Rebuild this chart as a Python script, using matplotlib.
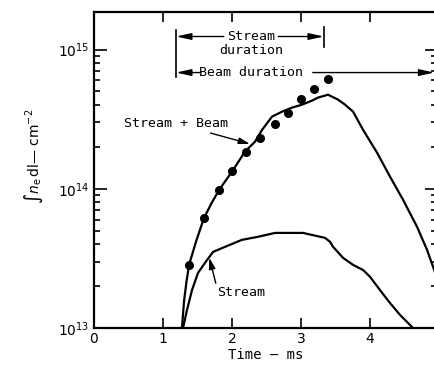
import matplotlib
matplotlib.use("Agg")
import matplotlib.pyplot as plt
from matplotlib.ticker import LogLocator, NullFormatter, FixedLocator

# ---- data ----
sb_t = [1.275, 1.304, 1.340, 1.377, 1.480, 1.594, 1.710, 1.812, 2.0, 2.188, 2.333,
        2.435, 2.58, 2.725, 2.870, 3.014, 3.159, 3.246, 3.391, 3.536, 3.638, 3.754,
        3.899, 4.101, 4.29, 4.478, 4.681, 4.826, 4.913, 5.0]
sb_n = [1.0e13, 1.55e13, 2.15e13, 2.84e13, 4.20e13, 6.18e13, 8.0e13, 9.8e13, 1.33e14,
        1.85e14, 2.18e14, 2.65e14, 3.30e14, 3.58e14, 3.83e14, 4.02e14, 4.30e14, 4.52e14,
        4.74e14, 4.37e14, 4.02e14, 3.58e14, 2.65e14, 1.82e14, 1.22e14, 8.34e13, 5.33e13,
        3.64e13, 2.75e13, 2.1e13]

st_t = [1.29, 1.348, 1.420, 1.507, 1.638, 1.725, 1.899, 2.145, 2.377, 2.623, 2.870,
        3.029, 3.348, 3.420, 3.464, 3.609, 3.754, 3.899, 4.0, 4.145, 4.29, 4.435, 4.623]
st_n = [1.0e13, 1.35e13, 1.87e13, 2.49e13, 3.08e13, 3.52e13, 3.83e13, 4.30e13, 4.52e13,
        4.82e13, 4.82e13, 4.82e13, 4.44e13, 4.16e13, 3.83e13, 3.19e13, 2.84e13, 2.61e13,
        2.33e13, 1.87e13, 1.51e13, 1.24e13, 1.0e13]

dot_t = [1.377, 1.594, 1.812, 2.0, 2.203, 2.406, 2.623, 2.812, 3.0, 3.188, 3.391]
dot_n = [2.84e13, 6.18e13, 9.8e13, 1.35e14, 1.85e14, 2.33e14, 2.94e14, 3.52e14,
         4.44e14, 5.24e14, 6.18e14]

x_ticks = [0, 1, 2, 3, 4, 5]
x_ticklabels = ["0", "1", "2", "3", "4", "5"]

stream_dur = (1.19, 3.33)
beam_dur = (1.19, 4.93)

# ---- figure ----
plt.rcParams['mathtext.fontset'] = 'dejavusans'
fig = plt.figure(figsize=(4.34, 3.69), dpi=100)
ax = fig.add_axes([94 / 434, 41 / 369, 343 / 434, 316 / 369])

ax.set_yscale('log')
ax.set_xlim(0, 4.97)
ax.set_ylim(1e13, 10 ** 15.27)

ax.plot(sb_t, sb_n, color='black', lw=1.6, clip_on=True)
ax.plot(st_t, st_n, color='black', lw=1.6, clip_on=True)
ax.plot(dot_t, dot_n, 'o', color='black', ms=5.5, clip_on=False)

for s in ax.spines.values():
    s.set_linewidth(1.6)

ax.xaxis.set_major_locator(FixedLocator(x_ticks))
ax.set_xticklabels(x_ticklabels)
ax.yaxis.set_major_locator(LogLocator(base=10))
ax.yaxis.set_minor_locator(LogLocator(base=10, subs=range(2, 10)))
ax.yaxis.set_minor_formatter(NullFormatter())
ax.tick_params(axis='both', which='both', direction='in', top=True, right=True,
               labelsize=10, width=1.2, pad=3)
ax.tick_params(axis='x', which='major', length=7)
ax.tick_params(axis='y', which='major', length=9)
ax.tick_params(axis='y', which='minor', length=4.5)

mono = 'DejaVu Sans Mono'
fs = 9.5

ax.set_xlabel('Time — ms', fontsize=10, family=mono, labelpad=1)
ax.set_ylabel(r'$\int n_{\rm e}\,{\rm dl}$— cm$^{-2}$', fontsize=10)
ax.yaxis.set_label_coords(-0.143, 0.544)

# Stream + Beam label with arrow
ax.annotate('Stream + Beam', xy=(2.26, 2.1e14), xytext=(0.43, 2.95e14),
            fontsize=fs, family=mono, ha='left', va='center',
            arrowprops=dict(arrowstyle='-|>,head_length=0.7,head_width=0.2', color='black',
                            lw=1.0, shrinkA=1, shrinkB=0))
# Stream label with arrow
ax.annotate('Stream', xy=(1.67, 3.2e13), xytext=(1.78, 1.8e13),
            fontsize=fs, family=mono, ha='left', va='center',
            arrowprops=dict(arrowstyle='-|>,head_length=0.7,head_width=0.2', color='black',
                            lw=1.0, shrinkA=0, shrinkB=0, relpos=(0, 0.9)))

# Stream duration
ys1 = 10 ** 15.094
ax.plot([stream_dur[0]] * 2, [10 ** 15.144, 10 ** 14.806], color='black', lw=1.2)
ax.plot([stream_dur[1]] * 2, [10 ** 15.16, 10 ** 15.02], color='black', lw=1.2)
ax.text(2.28, ys1, 'Stream', fontsize=fs, family=mono, ha='center', va='center')
ax.text(2.28, 10 ** 14.995, 'duration', fontsize=fs, family=mono, ha='center', va='center')
ax.annotate('', xy=(stream_dur[0], ys1), xytext=(1.88, ys1),
            arrowprops=dict(arrowstyle='-|>,head_length=0.9,head_width=0.2', color='black',
                            lw=1.0, shrinkA=0, shrinkB=0))
ax.annotate('', xy=(stream_dur[1], ys1), xytext=(2.67, ys1),
            arrowprops=dict(arrowstyle='-|>,head_length=0.9,head_width=0.2', color='black',
                            lw=1.0, shrinkA=0, shrinkB=0))

# Beam duration
yb = 10 ** 14.835
ax.text(2.28, yb, 'Beam duration', fontsize=fs, family=mono, ha='center', va='center')
ax.annotate('', xy=(beam_dur[0], yb), xytext=(1.55, yb),
            arrowprops=dict(arrowstyle='-|>,head_length=0.9,head_width=0.2', color='black',
                            lw=1.0, shrinkA=0, shrinkB=0))
ax.annotate('', xy=(beam_dur[1], yb), xytext=(3.17, yb),
            arrowprops=dict(arrowstyle='-|>,head_length=0.9,head_width=0.2', color='black',
                            lw=1.0, shrinkA=0, shrinkB=0))

fig.savefig('out.png', dpi=100, facecolor='white')
